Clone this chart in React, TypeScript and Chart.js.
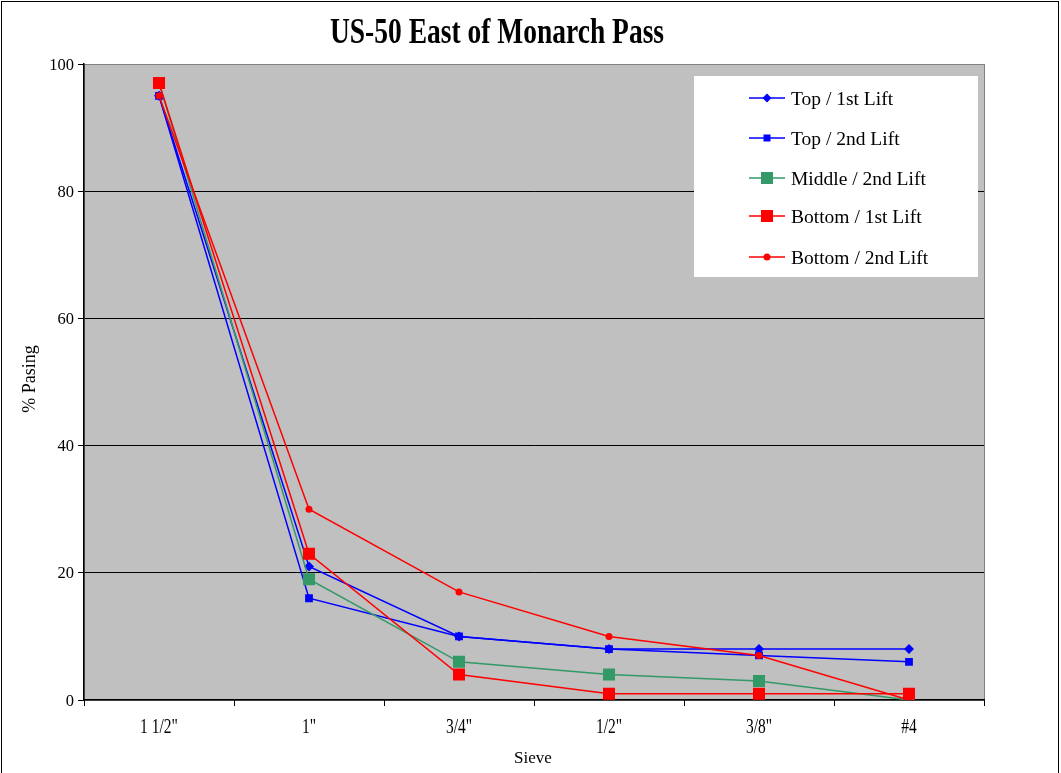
import React, { useEffect, useRef } from "react";
import { Chart, registerables } from "chart.js";

Chart.register(...registerables);

const categories = ['1 1/2"', '1"', '3/4"', '1/2"', '3/8"', '#4'];
const top1st = [95, 21, 10, 8, 8, 8];
const top2nd = [95, 16, 10, 8, 7, 6];
const middle2nd = [97, 19, 6, 4, 3, 0];
const bottom1st = [97, 23, 4, 1, 1, 1];
const bottom2nd = [95, 30, 17, 10, 7, 0];
const yTicks = [0, 20, 40, 60, 80, 100];

const FONT = "'Liberation Serif', 'Times New Roman', serif";

const seriesDefs = [
  { label: "Top / 1st Lift", data: top1st, color: "#0000FF", style: "rectRot", radius: 5 },
  { label: "Top / 2nd Lift", data: top2nd, color: "#0000FF", style: "rect", radius: 5.5 },
  { label: "Middle / 2nd Lift", data: middle2nd, color: "#339966", style: "rect", radius: 8.5 },
  { label: "Bottom / 1st Lift", data: bottom1st, color: "#FF0000", style: "rect", radius: 8.5 },
  { label: "Bottom / 2nd Lift", data: bottom2nd, color: "#FF0000", style: "circle", radius: 3.5 },
];

function drawText(
  ctx: CanvasRenderingContext2D,
  text: string,
  x: number,
  y: number,
  font: string,
  sy: number,
  align: CanvasTextAlign,
  rotate = 0
) {
  ctx.save();
  ctx.translate(x, y);
  ctx.scale(1, sy);
  if (rotate) ctx.rotate(rotate);
  ctx.font = font;
  ctx.textAlign = align;
  ctx.textBaseline = "alphabetic";
  ctx.fillStyle = "#000";
  ctx.fillText(text, 0, 0);
  ctx.restore();
}

const decorPlugin = {
  id: "decor",
  beforeDraw(chart: any) {
    const { ctx, chartArea } = chart;
    ctx.save();
    ctx.fillStyle = "#FFFFFF";
    ctx.fillRect(0, 0, chart.width, chart.height);
    ctx.fillStyle = "#C0C0C0";
    ctx.fillRect(chartArea.left, chartArea.top, chartArea.right - chartArea.left, chartArea.bottom - chartArea.top);
    ctx.strokeStyle = "#808080";
    ctx.lineWidth = 1;
    ctx.strokeRect(chartArea.left + 0.5, chartArea.top + 0.5, chartArea.right - chartArea.left, chartArea.bottom - chartArea.top);
    ctx.restore();
  },
  afterDraw(chart: any) {
    const { ctx } = chart;
    const xs = chart.scales.x;
    const ys = chart.scales.y;
    ctx.save();
    // outer border
    ctx.strokeStyle = "#000000";
    ctx.lineWidth = 1;
    ctx.strokeRect(1.5, 1.5, chart.width - 4, chart.height + 5);
    // title
    drawText(ctx, "US-50 East of Monarch Pass", 497, 43, `bold 27.5px ${FONT}`, 1.3, "center");
    // tick labels
    categories.forEach((c, i) => {
      drawText(ctx, c, xs.getPixelForValue(i), 733, `15.5px ${FONT}`, 1.3, "center");
    });
    yTicks.forEach((v) => {
      drawText(ctx, String(v), 74, ys.getPixelForValue(v) + 5.5, `16.5px ${FONT}`, 1, "right");
    });
    // axis titles
    drawText(ctx, "Sieve", 533, 763, `17px ${FONT}`, 1, "center");
    drawText(ctx, "% Pasing", 35, 379, `18px ${FONT}`, 1, "center", -Math.PI / 2);
    // legend
    const lx = 694, ly = 76, lw = 284, lh = 201;
    ctx.fillStyle = "#FFFFFF";
    ctx.fillRect(lx, ly, lw, lh);
    const rows = [98, 138, 178, 216, 257];
    seriesDefs.forEach((s, i) => {
      const y = rows[i];
      ctx.strokeStyle = s.color;
      ctx.lineWidth = 1.5;
      ctx.beginPath();
      ctx.moveTo(749, y);
      ctx.lineTo(785, y);
      ctx.stroke();
      ctx.fillStyle = s.color;
      ctx.beginPath();
      if (s.style === "rectRot") {
        const r = 4.5;
        ctx.moveTo(767 - r, y);
        ctx.lineTo(767, y - r);
        ctx.lineTo(767 + r, y);
        ctx.lineTo(767, y + r);
        ctx.closePath();
      } else if (s.style === "circle") {
        ctx.arc(767, y, 3.5, 0, Math.PI * 2);
      } else {
        const h = s.radius > 6 ? 6 : 3.5;
        ctx.rect(767 - h, y - h, 2 * h, 2 * h);
      }
      ctx.fill();
      drawText(ctx, s.label, 791, y + 7, `19.5px ${FONT}`, 1, "left");
    });
    ctx.restore();
  },
};

export default function App() {
  const ref = useRef<HTMLCanvasElement>(null);
  useEffect(() => {
    document.body.style.margin = "0";
    const chart = new Chart(ref.current!, {
      type: "line",
      data: {
        labels: categories,
        datasets: seriesDefs.map((s, i) => ({
          label: s.label,
          data: s.data,
          borderColor: s.color,
          backgroundColor: s.color,
          pointBackgroundColor: s.color,
          pointBorderColor: s.color,
          pointStyle: s.style as any,
          pointRadius: s.radius,
          pointBorderWidth: 0,
          borderWidth: 1.5,
          tension: 0,
          order: seriesDefs.length - i,
        })),
      },
      options: {
        animation: false,
        responsive: false,
        layout: { padding: { top: 64, left: 0, right: 77, bottom: 0 } },
        plugins: {
          legend: { display: false },
          title: { display: false },
          tooltip: { enabled: false },
        },
        scales: {
          x: {
            type: "category",
            offset: true,
            grid: {
              offset: true,
              drawOnChartArea: false,
              drawTicks: true,
              tickLength: 6,
              tickColor: "#000",
              color: "#000",
            },
            border: { color: "#000", width: 1.5 },
            ticks: {
              display: false,
              autoSkip: false,
              maxRotation: 0,
            },
            afterFit: (s: any) => {
              s.height = 73;
            },
          },
          y: {
            min: 0,
            max: 100,
            afterBuildTicks: (s: any) => {
              s.ticks = yTicks.map((v) => ({ value: v }));
            },
            grid: {
              color: (c: any) => (c.tick && (c.tick.value === 0 || c.tick.value === 100) ? "rgba(0,0,0,0)" : "#000"),
              lineWidth: 1,
              drawTicks: true,
              tickLength: 6,
              tickColor: "#000",
            },
            border: { color: "#000", width: 1.5 },
            ticks: {
              display: false,
            },
            afterFit: (s: any) => {
              s.width = 84;
            },
          },
        },
      },
      plugins: [decorPlugin],
    });
    return () => chart.destroy();
  }, []);
  return (
    <div style={{ width: 1061, height: 773 }}>
      <canvas ref={ref} width={1061} height={773} />
    </div>
  );
}
